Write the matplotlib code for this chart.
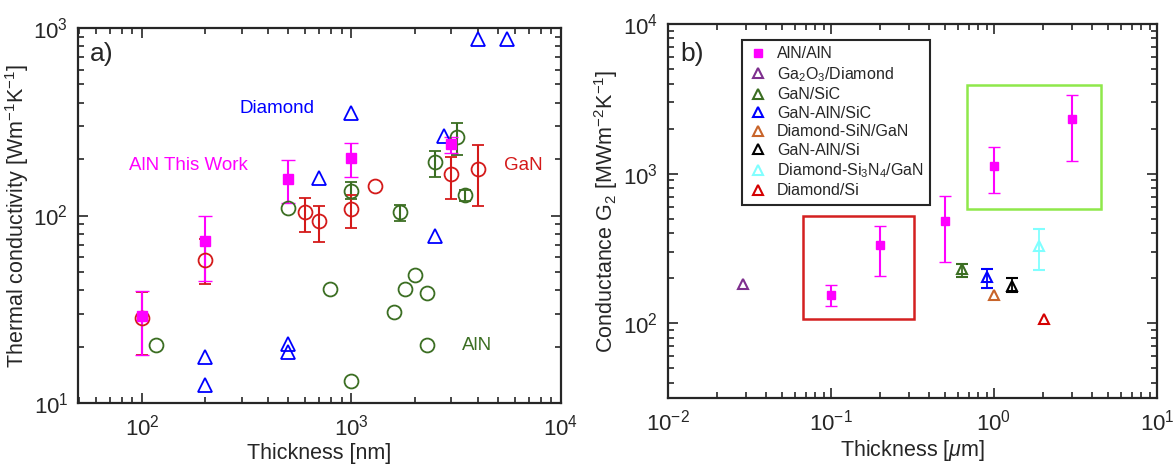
import matplotlib
matplotlib.use('Agg')

from matplotlib import pyplot as plt
from matplotlib.patches import Rectangle
from matplotlib.ticker import LogLocator, NullFormatter
import numpy as np

nan = np.nan

plt.rcParams['font.family'] = ['Liberation Sans', 'DejaVu Sans']
plt.rcParams['mathtext.fontset'] = 'custom'
plt.rcParams['mathtext.rm'] = 'Liberation Sans'
plt.rcParams['mathtext.it'] = 'Liberation Sans:italic'
plt.rcParams['mathtext.bf'] = 'Liberation Sans:bold'
plt.rcParams['text.color'] = '#262626'
plt.rcParams['axes.labelcolor'] = '#262626'
plt.rcParams['xtick.color'] = '#262626'
plt.rcParams['ytick.color'] = '#262626'

# ---- panel a) thermal conductivity vs thickness [nm] ----
aln_x = [100, 200, 500, 1000, 3000]
aln_y = [29, 73, 157, 203, 240]
aln_lo = [18, 45, 117, 161, 215]
aln_hi = [39.5, 100, 198, 243, 262]

gan_x = [100, 200, 600, 700, 1000, 1300, 3000, 4000]
gan_y = [28.5, 58, 104, 93, 108, 144, 167, 177]
gan_lo = [18, 43, 82, 72, 86, nan, 123, 113]
gan_hi = [39, 75, 124, 113, 129, nan, 205, 238]

alnlit_x = [117, 500, 790, 1000, 1000, 1700, 1600, 1800, 2000, 2300, 2300, 2500, 3200, 3500]
alnlit_y = [20.3, 109, 40.6, 135, 13.1, 104, 30.7, 40.6, 48.2, 38.6, 20.3, 193, 262, 128]
alnlit_lo = [nan, nan, nan, 122, nan, 93, nan, nan, nan, nan, nan, 161, 210, 119]
alnlit_hi = [nan, nan, nan, 150, nan, 114, nan, nan, nan, nan, nan, 221, 310, 137]

dia_x = [200, 200, 500, 500, 700, 1000, 2500, 2750, 4000, 5500]
dia_y = [17.7, 12.4, 20.7, 18.8, 158, 351, 78, 265, 875, 875]

# ---- panel b) conductance vs thickness [um] ----
g_x = [0.1, 0.2, 0.5, 1.0, 3.0]
g_y = [154, 331, 479, 1130, 2330]
g_lo = [130, 206, 255, 747, 1221]
g_hi = [179, 443, 703, 1514, 3362]

lit_names = ['Ga$_2$O$_3$/Diamond', 'GaN/SiC', 'GaN-AlN/SiC', 'Diamond-SiN/GaN',
             'GaN-AlN/Si', 'Diamond-Si$_3$N$_4$/GaN', 'Diamond/Si']
lit_x = [0.029, 0.64, 0.9, 1.0, 1.29, 1.89, 2.02]
lit_y = [182, 229, 203, 154, 176, 326, 106]
lit_lo = [nan, 203, 171, nan, 161, 226, nan]
lit_hi = [nan, 247, 229, nan, 200, 423, nan]
lit_colors = ['#7E2F8E', '#3B6E22', '#0000FF', '#C8642A', '#000000', '#80FFFF', '#D40000']

red_box = [0.067, 0.325, 107, 517]      # x0, x1, y0, y1
green_box = [0.684, 4.53, 584, 3920]

MAG = '#FF00FF'
RED = '#D41A1A'
GRN = '#3B6E22'
BLU = '#0000FF'


def err(y, lo, hi):
    y = np.array(y, float)
    return [y - np.array(lo, float), np.array(hi, float) - y]


def style_axes(ax):
    ax.set_xscale('log')
    ax.set_yscale('log')
    ax.tick_params(which='both', direction='in', top=True, right=True,
                   labelsize=16, width=1.2)
    ax.tick_params(axis='x', pad=8)
    ax.tick_params(axis='y', pad=7)
    ax.tick_params(which='major', length=7)
    ax.tick_params(which='minor', length=4)
    ax.xaxis.set_minor_locator(LogLocator(base=10, subs=np.arange(2, 10), numticks=20))
    ax.yaxis.set_minor_locator(LogLocator(base=10, subs=np.arange(2, 10), numticks=20))
    ax.xaxis.set_minor_formatter(NullFormatter())
    ax.yaxis.set_minor_formatter(NullFormatter())
    for s in ax.spines.values():
        s.set_linewidth(1.6)
        s.set_color('#262626')


fig = plt.figure(figsize=(11.75, 4.71), dpi=100)

# ------------- a) -------------
ax1 = fig.add_axes([78 / 1175, 68 / 471, 483 / 1175, 375 / 471])
style_axes(ax1)

ax1.errorbar(dia_x, dia_y, fmt='^', ms=10, mfc='none', mec=BLU, mew=1.3, color=BLU)
ax1.errorbar(alnlit_x, alnlit_y, yerr=err(alnlit_y, alnlit_lo, alnlit_hi), fmt='o',
             ms=10, mfc='none', mec=GRN, mew=1.3, ecolor=GRN, elinewidth=1.5, capsize=4)
ax1.errorbar(gan_x, gan_y, yerr=err(gan_y, gan_lo, gan_hi), fmt='o',
             ms=10, mfc='none', mec=RED, mew=1.3, ecolor=RED, elinewidth=1.5, capsize=4)
ax1.errorbar(aln_x, aln_y, yerr=err(aln_y, aln_lo, aln_hi), fmt='s',
             ms=7, mfc=MAG, mec=MAG, ecolor=MAG, elinewidth=1.5, capsize=5)

ax1.set_xlim(49.5, 1e4)
ax1.set_ylim(10, 1000)
ax1.set_xlabel('Thickness [nm]', fontsize=15.5, labelpad=2)
ax1.set_ylabel('Thermal conductivity [Wm$^{-1}$K$^{-1}$]', fontsize=15.5, labelpad=2)

ax1.text(0.025, 0.93, 'a)', transform=ax1.transAxes, fontsize=19, va='center')
ax1.text(443, 372, 'Diamond', color=BLU, fontsize=13.5, ha='center', va='center')
ax1.text(166, 184, 'AlN This Work', color=MAG, fontsize=13.5, ha='center', va='center')
ax1.text(6580, 184, 'GaN', color=RED, fontsize=13.5, ha='center', va='center')
ax1.text(3975, 20.3, 'AlN', color=GRN, fontsize=13.5, ha='center', va='center')

# ------------- b) -------------
ax2 = fig.add_axes([668 / 1175, 73 / 471, 489 / 1175, 374 / 471])
style_axes(ax2)

handles = []
h = ax2.errorbar(g_x, g_y, yerr=err(g_y, g_lo, g_hi), fmt='s', ms=6,
                 mfc=MAG, mec=MAG, ecolor=MAG, elinewidth=1.5, capsize=4)
handles.append(h.lines[0])
for name, x, y, lo, hi, c in zip(lit_names, lit_x, lit_y, lit_lo, lit_hi, lit_colors):
    h = ax2.errorbar([x], [y], yerr=err([y], [lo], [hi]), fmt='^', ms=7,
                     mfc='none', mec=c, mew=1.5, ecolor=c, elinewidth=1.3, capsize=4)
    handles.append(h.lines[0])

for box, c in [(red_box, '#D42020'), (green_box, '#8FE84A')]:
    ax2.add_patch(Rectangle((box[0], box[2]), box[1] - box[0], box[3] - box[2],
                            fill=False, edgecolor=c, lw=1.8))

ax2.set_xlim(0.01, 10)
ax2.set_ylim(10 ** 1.5, 1e4)
ax2.set_xlabel('Thickness [$\\mu$m]', fontsize=15.5, labelpad=2)
ax2.set_ylabel('Conductance G$_2$ [MWm$^{-2}$K$^{-1}$]', fontsize=15.5, labelpad=2)
ax2.text(0.025, 0.92, 'b)', transform=ax2.transAxes, fontsize=19, va='center')

leg = ax2.legend(handles, ['AlN/AlN'] + lit_names, loc='upper left',
                 bbox_to_anchor=(742 / 1175, 1 - 40 / 471), bbox_transform=fig.transFigure,
                 borderaxespad=0, fontsize=11.5, fancybox=False, framealpha=1,
                 edgecolor='#262626', labelspacing=0.22, handletextpad=0.6,
                 handlelength=1.2, borderpad=0.4)
leg.get_frame().set_linewidth(1.5)

plt.savefig('out.png', dpi=100)
plt.close()
